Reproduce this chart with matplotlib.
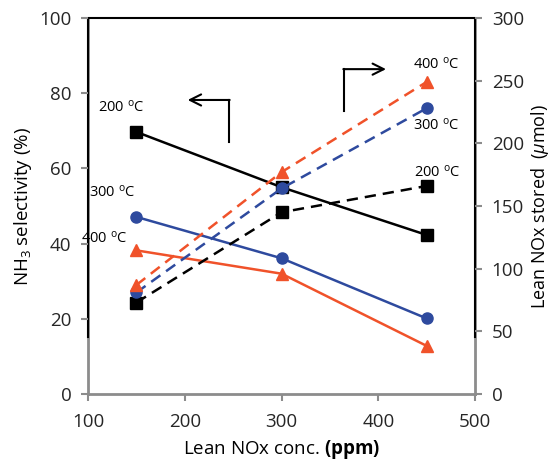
import matplotlib
matplotlib.use('Agg')
import matplotlib.pyplot as plt

plt.rcParams['font.family'] = ['Open Sans', 'DejaVu Sans']
plt.rcParams['mathtext.fontset'] = 'custom'
plt.rcParams['mathtext.rm'] = 'Open Sans'
plt.rcParams['mathtext.it'] = 'Open Sans:italic'
plt.rcParams['mathtext.bf'] = 'Open Sans:bold'

# Lean NOx concentration (ppm)
conc = [150, 300, 450]

# NH3 selectivity (%) - left axis, solid lines
sel_200 = [69.7, 55.0, 42.3]
sel_300 = [47.1, 36.1, 20.1]
sel_400 = [38.2, 32.0, 12.8]

# Lean NOx stored (umol) - right axis, dashed lines
stor_200 = [73, 145, 166]
stor_300 = [81, 164, 228]
stor_400 = [87, 177, 249]

black = '#000000'
blue = '#2E4A9E'
red = '#F0522A'
gray = '#8C8C8C'

fig = plt.figure(figsize=(5.55, 4.69), dpi=100)
ax = fig.add_axes([0.1586, 0.1599, 0.6973, 0.8017])
ax2 = ax.twinx()

lw = 1.8
ax.plot(conc, sel_200, color=black, lw=lw, marker='s', ms=9)
ax.plot(conc, sel_300, color=blue, lw=lw, marker='o', ms=8)
ax.plot(conc, sel_400, color=red, lw=lw, marker='^', ms=9)

dash = (0, (4.5, 2.8))
ax2.plot(conc, stor_200, color=black, lw=lw, ls=dash, marker='s', ms=9)
ax2.plot(conc, stor_300, color=blue, lw=lw, ls=dash, marker='o', ms=8)
ax2.plot(conc, stor_400, color=red, lw=lw, ls=dash, marker='^', ms=9)

ax.set_xlim(100, 500)
ax.set_ylim(0, 100)
ax2.set_ylim(0, 300)
ax.set_xticks([100, 200, 300, 400, 500])
ax.set_yticks([0, 20, 40, 60, 80, 100])
ax2.set_yticks([0, 50, 100, 150, 200, 250, 300])

for a in (ax, ax2):
    for s in a.spines.values():
        s.set_visible(False)
    a.tick_params(direction='out', length=5, width=1.5, color=gray,
                  labelsize=13.5, labelcolor='#262626', pad=7)
ax.tick_params(axis='x', pad=9)

# gray axis lines
for x in (0, 1):
    ax.plot([x, x], [0, 1], transform=ax.transAxes, color=gray, lw=2,
            clip_on=False, zorder=0)
ax.plot([0, 1], [0, 0], transform=ax.transAxes, color=gray, lw=2,
        clip_on=False, zorder=0)
# black plot-area frame
ax.plot([0, 0, 1, 1], [0.152, 1, 1, 0.152], transform=ax.transAxes,
        color=black, lw=1.5, clip_on=False, zorder=1)

ax.set_xlabel('Lean NOx conc. $\\mathbf{(ppm)}$', fontsize=13.5, labelpad=5)
ax.set_ylabel('NH$_3$ selectivity (%)', fontsize=13.5, labelpad=4)
ax2.set_ylabel('Lean NOx stored  ($\\mu$mol)', fontsize=13, labelpad=4)

# temperature labels
ts = 10.5
deg = ' $^{\\mathrm{o}}$C'
ax.text(134, 76.2, '200' + deg, fontsize=ts, ha='center', va='center')
ax.text(125, 53.5, '300' + deg, fontsize=ts, ha='center', va='center')
ax.text(117, 41.2, '400' + deg, fontsize=ts, ha='center', va='center')
ax.text(460, 87.5, '400' + deg, fontsize=ts, ha='center', va='center')
ax.text(460, 71.3, '300' + deg, fontsize=ts, ha='center', va='center')
ax.text(461, 59.0, '200' + deg, fontsize=ts, ha='center', va='center')

# direction arrows
ax.plot([245.7, 245.7], [67.0, 78.2], color=black, lw=1.5)
ax.annotate('', xy=(203.0, 78.2), xytext=(246.4, 78.2),
            arrowprops=dict(arrowstyle='->,head_length=0.8,head_width=0.4',
                            color=black, lw=1.5, shrinkA=0, shrinkB=0))
ax.plot([364.6, 364.6], [75.3, 86.4], color=black, lw=1.5)
ax.annotate('', xy=(408.0, 86.4), xytext=(363.9, 86.4),
            arrowprops=dict(arrowstyle='->,head_length=0.8,head_width=0.4',
                            color=black, lw=1.5, shrinkA=0, shrinkB=0))

fig.savefig('out.png', dpi=100)
